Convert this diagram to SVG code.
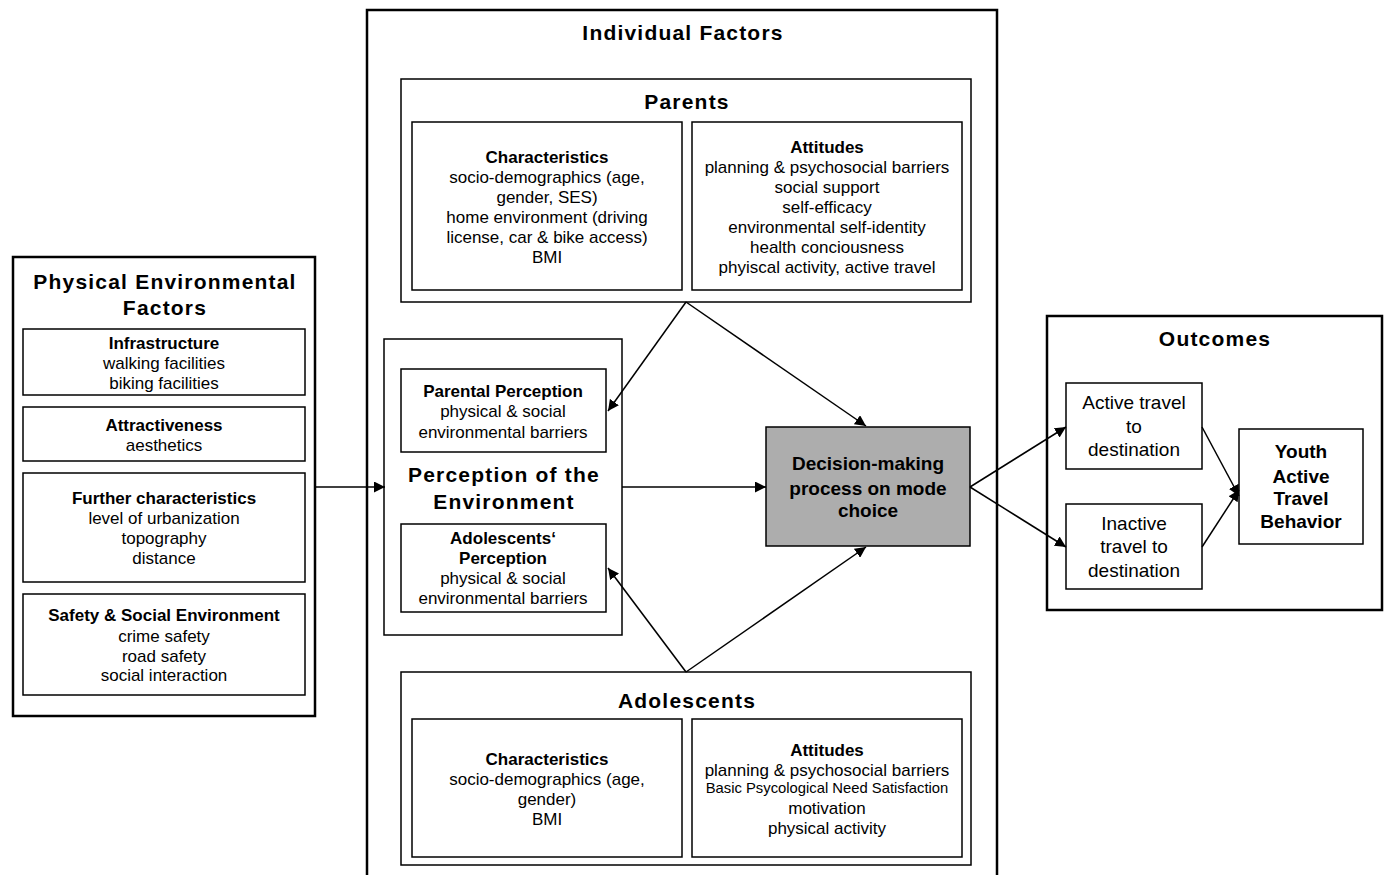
<svg xmlns="http://www.w3.org/2000/svg" width="1390" height="875" viewBox="0 0 1390 875">
<defs>
<style>
text{font-family:"Liberation Sans",Arial,sans-serif;fill:#000;text-anchor:middle}
.t{font-size:17px}
.b{font-weight:bold}
.h{font-size:21px;font-weight:bold;letter-spacing:1.2px}
.h2{font-size:21px;font-weight:bold;letter-spacing:1.2px}
.d{font-size:19px;font-weight:bold}
.s{font-size:19px}
.o{fill:#fff;stroke:#000;stroke-width:2.5}
.i{fill:#fff;stroke:#000;stroke-width:1.5}
.c{stroke:#000;stroke-width:1.5;fill:none;marker-end:url(#ah)}
</style>
<marker id="ah" viewBox="0 0 10 10" refX="10" refY="5" markerWidth="11" markerHeight="11" markerUnits="userSpaceOnUse" orient="auto">
<path d="M0,0 L10,5 L0,10 z" fill="#000"/>
</marker>
</defs>
<rect width="1390" height="875" fill="#fff"/>

<g id="physical">
<rect class="o" x="13" y="257" width="302" height="459"/>
<text class="h" x="165" y="289">Physical Environmental</text>
<text class="h" x="165" y="315">Factors</text>
<rect class="i" x="23" y="329" width="282" height="66"/>
<text class="t b" x="164" y="349">Infrastructure</text>
<text class="t" x="164" y="369">walking facilities</text>
<text class="t" x="164" y="389">biking facilities</text>
<rect class="i" x="23" y="407" width="282" height="54"/>
<text class="t b" x="164" y="431">Attractiveness</text>
<text class="t" x="164" y="451">aesthetics</text>
<rect class="i" x="23" y="473" width="282" height="109"/>
<text class="t b" x="164" y="504">Further characteristics</text>
<text class="t" x="164" y="524">level of urbanization</text>
<text class="t" x="164" y="544">topography</text>
<text class="t" x="164" y="564">distance</text>
<rect class="i" x="23" y="594" width="282" height="101"/>
<text class="t b" x="164" y="621">Safety &amp; Social Environment</text>
<text class="t" x="164" y="642">crime safety</text>
<text class="t" x="164" y="662">road safety</text>
<text class="t" x="164" y="681">social interaction</text>
</g>

<g id="individual">
<rect class="o" x="367" y="10" width="630" height="880"/>
<text class="h2" x="683" y="40">Individual Factors</text>
</g>

<g id="parents">
<rect class="i" x="401" y="79" width="570" height="223"/>
<text class="h2" x="687" y="109">Parents</text>
<rect class="i" x="412" y="122" width="270" height="168"/>
<text class="t b" x="547" y="163">Characteristics</text>
<text class="t" x="547" y="183">socio-demographics (age,</text>
<text class="t" x="547" y="203">gender, SES)</text>
<text class="t" x="547" y="223">home environment (driving</text>
<text class="t" x="547" y="243">license, car &amp; bike access)</text>
<text class="t" x="547" y="263">BMI</text>
<rect class="i" x="692" y="122" width="270" height="168"/>
<text class="t b" x="827" y="153">Attitudes</text>
<text class="t" x="827" y="173">planning &amp; psychosocial barriers</text>
<text class="t" x="827" y="193">social support</text>
<text class="t" x="827" y="213">self-efficacy</text>
<text class="t" x="827" y="233">environmental self-identity</text>
<text class="t" x="827" y="253">health conciousness</text>
<text class="t" x="827" y="273">phyiscal activity, active travel</text>
</g>

<g id="perception">
<rect class="i" x="384" y="339" width="238" height="296"/>
<rect class="i" x="401" y="369" width="205" height="83"/>
<text class="t b" x="503" y="397">Parental Perception</text>
<text class="t" x="503" y="417">physical &amp; social</text>
<text class="t" x="503" y="438">environmental barriers</text>
<text class="h" x="504" y="482">Perception of the</text>
<text class="h" x="504" y="509">Environment</text>
<rect class="i" x="401" y="524" width="205" height="88"/>
<text class="t b" x="503" y="544">Adolescents‘</text>
<text class="t b" x="503" y="564">Perception</text>
<text class="t" x="503" y="584">physical &amp; social</text>
<text class="t" x="503" y="604">environmental barriers</text>
</g>

<g id="decision">
<rect x="766" y="427" width="204" height="119" fill="#adadad" stroke="#000" stroke-width="1.5"/>
<text class="d" x="868" y="470">Decision-making</text>
<text class="d" x="868" y="495">process on mode</text>
<text class="d" x="868" y="517">choice</text>
</g>

<g id="adolescents">
<rect class="i" x="401" y="672" width="570" height="193"/>
<text class="h2" x="687" y="708">Adolescents</text>
<rect class="i" x="412" y="719" width="270" height="138"/>
<text class="t b" x="547" y="765">Characteristics</text>
<text class="t" x="547" y="785">socio-demographics (age,</text>
<text class="t" x="547" y="805">gender)</text>
<text class="t" x="547" y="825">BMI</text>
<rect class="i" x="692" y="719" width="270" height="138"/>
<text class="t b" x="827" y="756">Attitudes</text>
<text class="t" x="827" y="776">planning &amp; psychosocial barriers</text>
<text font-size="14.8" x="827" y="793">Basic Psycological Need Satisfaction</text>
<text class="t" x="827" y="814">motivation</text>
<text class="t" x="827" y="834">physical activity</text>
</g>

<g id="outcomes">
<rect class="o" x="1047" y="316" width="335" height="294"/>
<text class="h2" x="1215" y="346">Outcomes</text>
<rect class="i" x="1066" y="383" width="136" height="86"/>
<text class="s" x="1134" y="409">Active travel</text>
<text class="s" x="1134" y="433">to</text>
<text class="s" x="1134" y="456">destination</text>
<rect class="i" x="1066" y="504" width="136" height="85"/>
<text class="s" x="1134" y="530">Inactive</text>
<text class="s" x="1134" y="553">travel to</text>
<text class="s" x="1134" y="577">destination</text>
<rect class="i" x="1239" y="429" width="124" height="115"/>
<text class="d" x="1301" y="458">Youth</text>
<text class="d" x="1301" y="483">Active</text>
<text class="d" x="1301" y="505">Travel</text>
<text class="d" x="1301" y="528">Behavior</text>
</g>

<g id="connectors">
<line class="c" x1="315" y1="487" x2="385" y2="487"/>
<line class="c" x1="622" y1="487" x2="766" y2="487"/>
<line class="c" x1="686" y1="302" x2="608" y2="411"/>
<line class="c" x1="686" y1="302" x2="866" y2="426"/>
<line class="c" x1="686" y1="672" x2="608" y2="568"/>
<line class="c" x1="686" y1="672" x2="866" y2="547"/>
<line class="c" x1="970" y1="487" x2="1066" y2="427"/>
<line class="c" x1="970" y1="487" x2="1066" y2="547"/>
<line class="c" x1="1202" y1="427" x2="1239" y2="496"/>
<line class="c" x1="1202" y1="547" x2="1239" y2="490"/>
</g>
</svg>
